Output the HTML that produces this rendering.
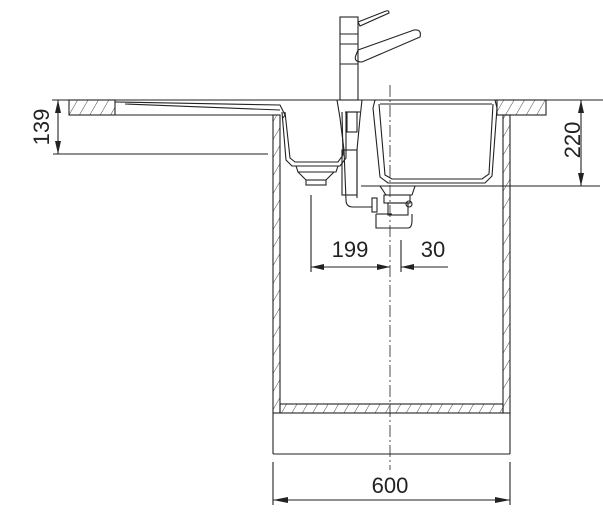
<!DOCTYPE html>
<html><head><style>
html,body{margin:0;padding:0;background:#fff;}
svg{display:block;}
text{font-family:"Liberation Sans",sans-serif;fill:#222;}
</style></head><body>
<svg width="603" height="530" viewBox="0 0 603 530" xmlns="http://www.w3.org/2000/svg">
<defs>
<pattern id="h" width="9" height="9" patternUnits="userSpaceOnUse" patternTransform="rotate(30)">
<line x1="0" y1="0" x2="0" y2="9" stroke="#333" stroke-width="0.9"/>
</pattern>
</defs>
<g stroke="#222" fill="none" stroke-width="1.1">
<line x1="52" y1="100" x2="603" y2="100"/>
<rect x="69" y="100" width="46" height="15" fill="url(#h)"/>
<rect x="497" y="100" width="49" height="15" fill="url(#h)"/>
<line x1="115" y1="115" x2="273" y2="115"/>
<line x1="53" y1="154" x2="268" y2="154"/>
<path d="M115 102 L280 105 L285 115 L283 118"/>
<path d="M125 104 L280 110"/>
<rect x="273" y="115" width="7" height="298" fill="url(#h)"/>
<rect x="503" y="115" width="7" height="298" fill="url(#h)"/>
<rect x="280" y="404" width="223" height="9" fill="url(#h)"/>
<line x1="273" y1="413" x2="273" y2="454"/>
<line x1="510" y1="413" x2="510" y2="454"/>
<line x1="273" y1="454" x2="510" y2="454"/>
<path d="M285 112 L290 158 L295 162 L338 162 L343 155 L342 112"/>
<path d="M282 112 L286 160 L292 166 L340 166 L346 158 L346 112"/>
<path d="M296 166 L298 172 L336 172 L338 166"/>
<path d="M298 172 L306 180 L326 180 L334 172"/>
<rect x="306" y="180" width="20" height="5"/>
<path d="M337 100 L340 118 L344 150 L346 200 Q346 207 353 207 L372 207"/>
<path d="M362 100 L360 118 L357 150 L357 198"/>
<path d="M345 112 L360 112"/>
<rect x="347" y="112" width="10" height="20"/>
<rect x="342" y="150" width="15" height="45"/>
<rect x="372" y="198" width="5" height="14"/>
<path d="M375 100 L373 108 L380 177 L388 183 L485 183 L492 176 L497 108 L495 100"/>
<path d="M379 104 L385 175 L392 179 L482 179 L489 174 L493 104"/>
<path d="M380 104 L492 104"/>
<path d="M380 186 L415 186 L412 195 L386 195 Z"/>
<rect x="384" y="195" width="26" height="8"/>
<rect x="388" y="203" width="20" height="12"/>
<circle cx="409" cy="204" r="3"/>
<path d="M376 214 L376 228 L408 228 Q412 228 412 220 L412 214"/>
<line x1="376" y1="214" x2="392" y2="214"/>
<rect x="340" y="17" width="18" height="83"/>
<line x1="340" y1="34" x2="358" y2="34"/>
<line x1="340" y1="44" x2="358" y2="44"/>
<line x1="340" y1="64" x2="358" y2="64"/>
<path d="M358 22 L386 11 Q389 10 389 13 L360 26 Z"/>
<path d="M358 50 L414 30 Q422 29 420 37 L362 62 Q353 62 356 55 Z"/>
<line x1="390" y1="85" x2="390" y2="470" stroke-dasharray="12 3 2 3" stroke-width="0.8"/>
<line x1="58" y1="100" x2="58" y2="154"/>
<line x1="581" y1="100" x2="581" y2="186"/>
<line x1="361" y1="186" x2="600" y2="186"/>
<line x1="311" y1="195" x2="311" y2="272"/>
<line x1="401" y1="240" x2="401" y2="272"/>
<line x1="311" y1="267" x2="390" y2="267"/>
<line x1="401" y1="267" x2="448" y2="267"/>
<line x1="273" y1="462" x2="273" y2="505"/>
<line x1="510" y1="462" x2="510" y2="505"/>
<line x1="273" y1="500" x2="510" y2="500"/>
</g>
<g fill="#222">
<polygon points="58,100 55,113 61,113"/>
<polygon points="58,154 55,141 61,141"/>
<polygon points="581,100 578,113 584,113"/>
<polygon points="581,186 578,173 584,173"/>
<polygon points="311,267 324,264 324,270"/>
<polygon points="390,267 377,264 377,270"/>
<polygon points="401,267 414,264 414,270"/>
<polygon points="273,500 288,497 288,503"/>
<polygon points="510,500 495,497 495,503"/>
</g>
<text x="350" y="257" font-size="22" text-anchor="middle">199</text>
<text x="433" y="257" font-size="22" text-anchor="middle">30</text>
<text x="390" y="493" font-size="22" text-anchor="middle">600</text>
<text transform="translate(49,127) rotate(-90)" font-size="22" text-anchor="middle">139</text>
<text transform="translate(580,140) rotate(-90)" font-size="22" text-anchor="middle">220</text>
</svg>
</body></html>
